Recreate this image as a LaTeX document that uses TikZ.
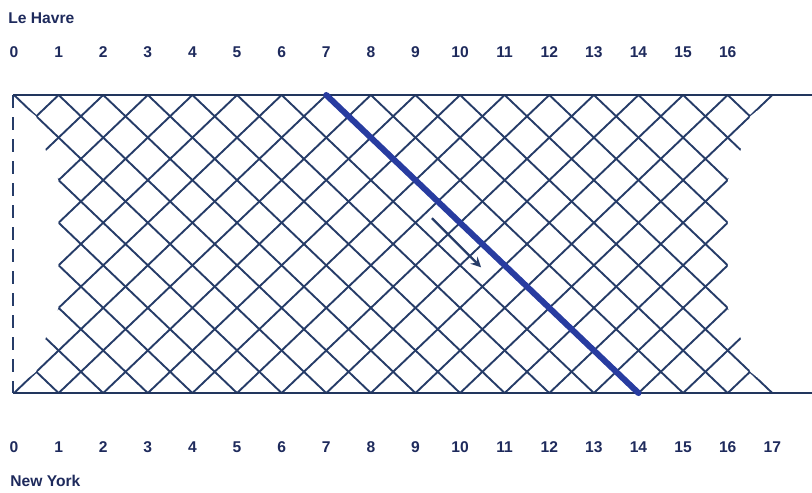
\documentclass[tikz,border=0pt]{standalone}
\usepackage{fontspec}
\setmainfont{Liberation Sans}
\usetikzlibrary{calc,arrows}
\definecolor{ink}{RGB}{30,42,92}
\definecolor{netblue}{RGB}{38,60,104}
\definecolor{routeblue}{RGB}{40,60,160}
\newcommand{\bandH}{6.682}
\tikzset{
  lattice/.style={draw=netblue, line width=0.95pt},
  coast/.style={draw=netblue!90!black, line width=1.3pt},
  route/.style={draw=routeblue, line width=3pt, line cap=round},
  voyage/.style={draw=netblue, line width=1.2pt, ->, >=stealth},
  daylabel/.style={text=ink, inner sep=0pt, font=\fontsize{7.8}{9}\selectfont\bfseries},
  portlabel/.style={daylabel, anchor=west}
}

\begin{document}
\begin{tikzpicture}[x=22.3pt, y=22.3pt]
  \useasboundingbox (-0.314,-2.22) rectangle (17.89,8.812);

  % ports and days
  \node [portlabel] (havre) at (-0.135,8.41) {Le Havre};
  \node [portlabel] (newyork) at (-0.09,-1.97) {New York};
  \foreach \k in {0,...,16}
    \node [daylabel] (top\k) at (\k,7.646) {\k};
  \foreach \k in {0,...,17}
    \node [daylabel] (bot\k) at (\k,-1.21) {\k};

  % ships crossing both ways
  \begin{scope}
    \clip (-0.1,{\bandH+0.3}) -- (-0.1,\bandH) -- (0.5,{13*\bandH/14}) -- (0.71,{0.816*\bandH})
      -- (1,{10*\bandH/14}) -- (1,{4*\bandH/14}) -- (0.71,{0.184*\bandH}) -- (0.5,{\bandH/14})
      -- (-0.1,0) -- (-0.1,-0.3) -- (17.1,-0.3) -- (17.1,0) -- (16.5,{\bandH/14})
      -- (16.29,{0.184*\bandH}) -- (16,{4*\bandH/14}) -- (16,{10*\bandH/14})
      -- (16.29,{0.816*\bandH}) -- (16.5,{13*\bandH/14}) -- (17.1,\bandH) -- (17.1,{\bandH+0.3}) -- cycle;
    \foreach \d in {-6,...,16} {
      \draw [lattice] (\d,\bandH) -- ({\d+7},0);
      \draw [lattice] (\d,0) -- ({\d+7},\bandH);
    }
  \end{scope}

  % coasts
  \draw [coast] (-0.02,\bandH) -- (17.9,\bandH);
  \draw [coast] (-0.02,0) -- (17.9,0);
  \draw [netblue, line width=0.9pt, dash pattern=on 6.5pt off 4.5pt] (-0.02,\bandH) -- (-0.02,0);

  % the ship leaving on day 7
  \coordinate (depart) at (7,\bandH);
  \coordinate (arrive) at (14,0);
  \draw [route] (depart) -- (arrive);
  \coordinate (tail) at (9.37,3.92);
  \coordinate (tip) at (10.47,2.82);
  \draw [voyage] (tail) -- (tip);
\end{tikzpicture}
\end{document}
